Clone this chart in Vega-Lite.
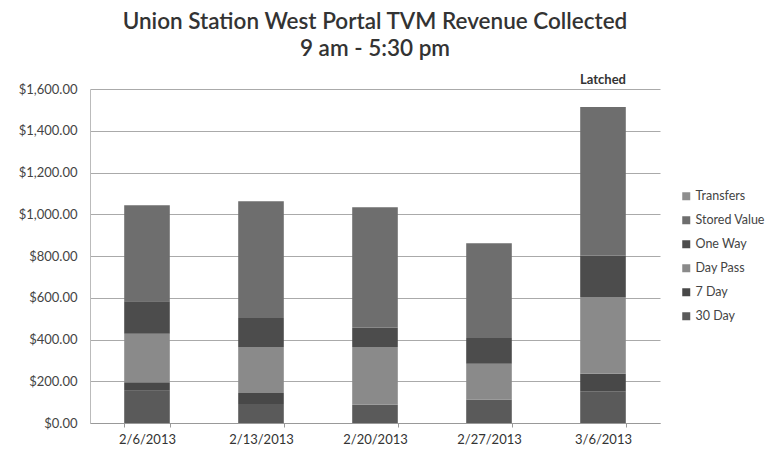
{
  "$schema": "https://vega.github.io/schema/vega-lite/v6.json",
  "width": 570,
  "height": 334,
  "autosize": {"type": "none"},
  "padding": {"left": 90, "top": 89, "right": 119, "bottom": 32},
  "background": "white",
  "config": {
    "font": "Lato",
    "view": {"stroke": null},
    "axis": {"labelFont": "Lato", "labelFontSize": 12, "labelColor": "#444"}
  },
  "title": {
    "text": ["Union Station West Portal TVM Revenue Collected", "9 am - 5:30 pm"],
    "font": "Lato",
    "fontSize": 22.5,
    "fontWeight": 600,
    "color": "#333",
    "lineHeight": 27,
    "anchor": "middle",
    "frame": "group",
    "offset": 13
  },
  "data": {
    "values": [
      {"date": "2/6/2013", "type": "30 Day", "amount": 155},
      {"date": "2/6/2013", "type": "7 Day", "amount": 40},
      {"date": "2/6/2013", "type": "Day Pass", "amount": 233},
      {"date": "2/6/2013", "type": "One Way", "amount": 155},
      {"date": "2/6/2013", "type": "Stored Value", "amount": 460},
      {"date": "2/6/2013", "type": "Transfers", "amount": 0},
      {"date": "2/13/2013", "type": "30 Day", "amount": 91},
      {"date": "2/13/2013", "type": "7 Day", "amount": 53},
      {"date": "2/13/2013", "type": "Day Pass", "amount": 220},
      {"date": "2/13/2013", "type": "One Way", "amount": 139},
      {"date": "2/13/2013", "type": "Stored Value", "amount": 559},
      {"date": "2/13/2013", "type": "Transfers", "amount": 0},
      {"date": "2/20/2013", "type": "30 Day", "amount": 88},
      {"date": "2/20/2013", "type": "7 Day", "amount": 0},
      {"date": "2/20/2013", "type": "Day Pass", "amount": 276},
      {"date": "2/20/2013", "type": "One Way", "amount": 94},
      {"date": "2/20/2013", "type": "Stored Value", "amount": 575},
      {"date": "2/20/2013", "type": "Transfers", "amount": 0},
      {"date": "2/27/2013", "type": "30 Day", "amount": 112},
      {"date": "2/27/2013", "type": "7 Day", "amount": 0},
      {"date": "2/27/2013", "type": "Day Pass", "amount": 172},
      {"date": "2/27/2013", "type": "One Way", "amount": 123},
      {"date": "2/27/2013", "type": "Stored Value", "amount": 454},
      {"date": "2/27/2013", "type": "Transfers", "amount": 0},
      {"date": "3/6/2013", "type": "30 Day", "amount": 152},
      {"date": "3/6/2013", "type": "7 Day", "amount": 84},
      {"date": "3/6/2013", "type": "Day Pass", "amount": 368},
      {"date": "3/6/2013", "type": "One Way", "amount": 198},
      {"date": "3/6/2013", "type": "Stored Value", "amount": 712},
      {"date": "3/6/2013", "type": "Transfers", "amount": 0}
    ]
  },
  "encoding": {
    "x": {
      "field": "date",
      "type": "nominal",
      "sort": null,
      "scale": {"paddingInner": 0.6, "paddingOuter": 0.3},
      "axis": {
        "title": null,
        "labelAngle": 0,
        "labelPadding": 6,
        "labelFontSize": 13,
        "labelColor": "#333",
        "domainColor": "#999",
        "tickColor": "#999",
        "tickBand": "extent",
        "tickSize": 4
      }
    }
  },
  "layer": [
    {
      "mark": {"type": "bar"},
      "encoding": {
        "y": {
          "field": "amount",
          "type": "quantitative",
          "stack": "zero",
          "scale": {"domain": [0, 1600], "nice": false},
          "axis": {
            "title": null,
            "format": "$,.2f",
            "values": [0, 200, 400, 600, 800, 1000, 1200, 1400, 1600],
            "labelOverlap": false,
            "labelFontSize": 13,
            "labelPadding": 13,
            "ticks": false,
            "domainColor": "#bbb",
            "gridColor": "#aaa",
            "gridWidth": 1
          }
        },
        "color": {
          "field": "type",
          "type": "nominal",
          "scale": {
            "domain": ["Transfers", "Stored Value", "One Way", "Day Pass", "7 Day", "30 Day"],
            "range": ["#8e8e8e", "#6e6e6e", "#4c4c4c", "#8a8a8a", "#484848", "#5a5a5a"]
          },
          "legend": {
            "title": null,
            "orient": "none",
            "legendX": 590,
            "legendY": 101,
            "symbolType": "square",
            "symbolSize": 64,
            "symbolStrokeWidth": 0,
            "labelFont": "Lato",
            "labelFontSize": 12.5,
            "labelColor": "#444",
            "rowPadding": 11,
            "labelOffset": 3
          }
        },
        "order": {"field": "type", "sort": "ascending"}
      }
    },
    {
      "data": {"values": [{"date": "3/6/2013", "label": "Latched", "pos": 1645}]},
      "mark": {"type": "text", "font": "Lato", "fontWeight": "bold", "fontSize": 13, "color": "#333", "baseline": "middle"},
      "encoding": {
        "y": {
          "field": "pos",
          "type": "quantitative",
          "axis": {
            "title": null,
            "format": "$,.2f",
            "values": [0, 200, 400, 600, 800, 1000, 1200, 1400, 1600],
            "labelOverlap": false,
            "labelFontSize": 13,
            "labelPadding": 13,
            "ticks": false,
            "domainColor": "#bbb",
            "gridColor": "#aaa",
            "gridWidth": 1
          }
        },
        "text": {"field": "label"}
      }
    }
  ]
}
